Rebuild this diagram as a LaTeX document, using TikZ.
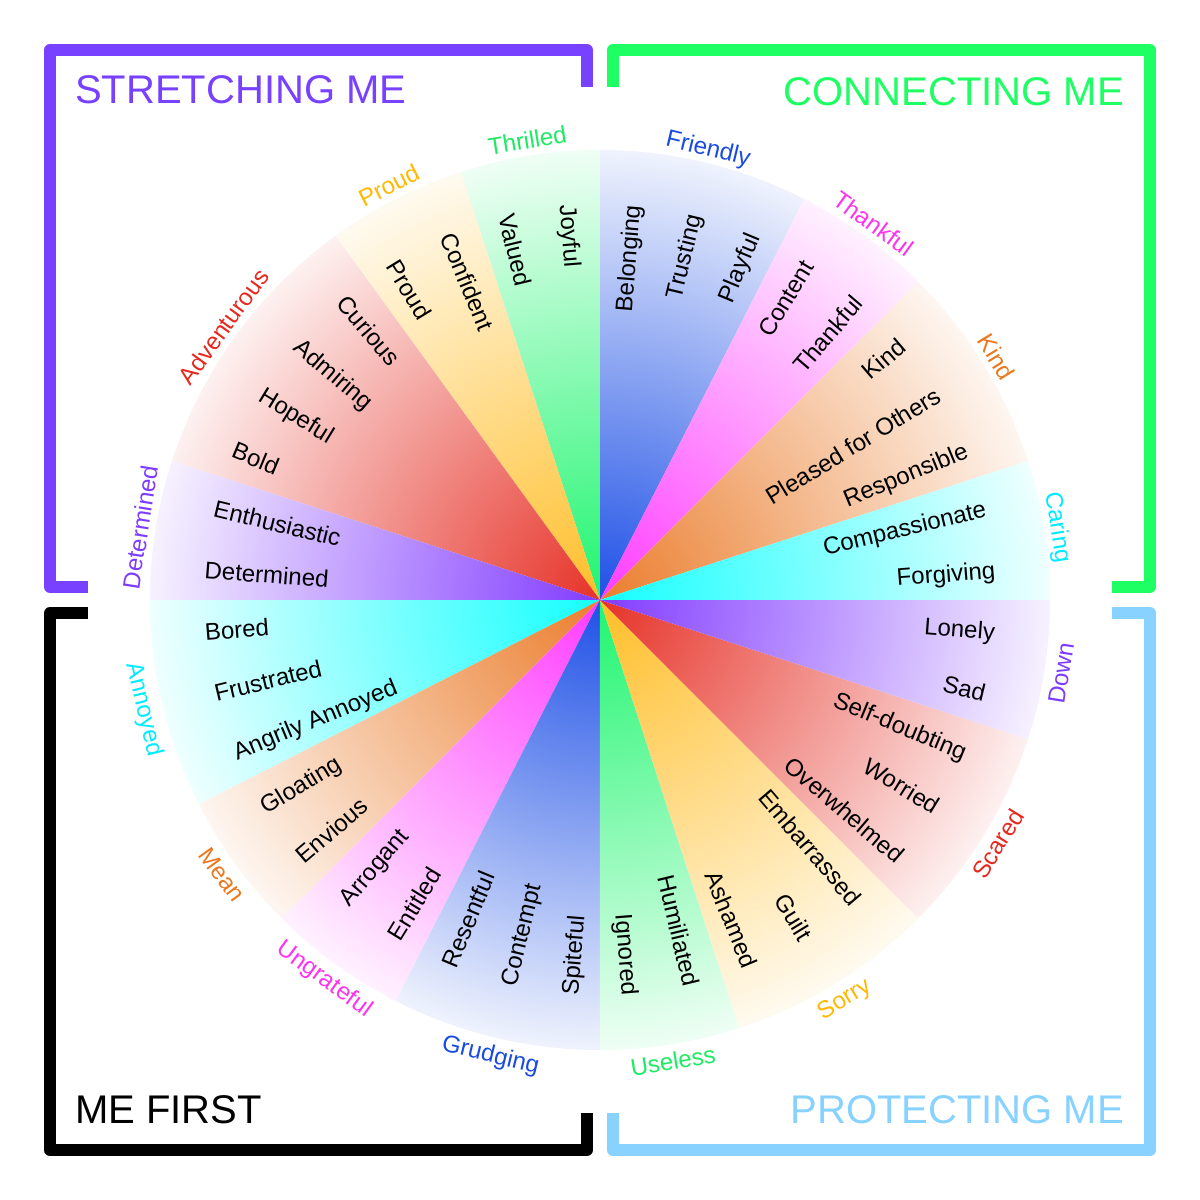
\documentclass[tikz,border=0pt]{standalone}
\usepackage{fontspec}
\setmainfont{Liberation Sans}
\definecolor{cblue}{RGB}{30,80,230}
\definecolor{cmag}{RGB}{255,60,255}
\definecolor{corange}{RGB}{235,125,45}
\definecolor{ccyan}{RGB}{20,255,255}
\definecolor{cgreen}{RGB}{30,245,110}
\definecolor{cyellow}{RGB}{255,190,40}
\definecolor{cred}{RGB}{230,50,40}
\definecolor{cpurple}{RGB}{130,60,255}
\definecolor{lblue}{RGB}{25,75,225}
\definecolor{lmag}{RGB}{255,50,240}
\definecolor{lorange}{RGB}{235,120,30}
\definecolor{lcyan}{RGB}{0,235,255}
\definecolor{lgreen}{RGB}{30,235,100}
\definecolor{lyellow}{RGB}{255,185,0}
\definecolor{lred}{RGB}{230,40,30}
\definecolor{lpurple}{RGB}{125,60,255}
\definecolor{fpurple}{RGB}{120,64,255}
\definecolor{fgreen}{RGB}{30,255,100}
\definecolor{fblue}{RGB}{135,210,255}
\tikzset{
  frame/.style={line width=0.12cm, line join=round},
  titletext/.style={inner sep=0pt, font=\fontsize{11.38pt}{13pt}\selectfont},
  wordR/.style={inner sep=0pt, anchor=mid east, font=\fontsize{6.83pt}{8pt}\selectfont},
  wordL/.style={inner sep=0pt, anchor=mid west, font=\fontsize{6.83pt}{8pt}\selectfont},
  cat/.style={inner sep=0pt, anchor=mid, font=\fontsize{6.85pt}{8pt}\selectfont},
}
\begin{document}
\begin{tikzpicture}
\useasboundingbox (-6,-6) rectangle (6,6);
\fill[white] (-6,-6) rectangle (6,6);
% sectors
\foreach \a/\b/\c in {63/90/cblue,45/63/cmag,18/45/corange,0/18/ccyan,
  90/108/cgreen,108/126/cyellow,126/162/cred,162/180/cpurple,
  180/207/ccyan,207/225/corange,225/243/cmag,243/270/cblue,
  270/288/cgreen,288/315/cyellow,315/342/cred,342/360/cpurple}{
  \begin{scope}
    \clip (0,0) -- (\a:4.5) arc[start angle=\a, end angle=\b, radius=4.5] -- cycle;
    \shade[inner color=\c, outer color=\c!7] (0,0) circle (4.5);
  \end{scope}
}
% category labels
\foreach \m/\r/\t/\lc [count=\i] in {76.5/-13.5/Friendly/lblue, 54/-36/Thankful/lmag,
  31.5/-58.5/Kind/lorange, 9/-81/Caring/lcyan, 99/9/Thrilled/lgreen,
  117/27/Proud/lyellow, 144/54/Adventurous/lred, 171/81/Determined/lpurple,
  193.5/283.5/Annoyed/lcyan, 216/306/Mean/lorange, 234/324/Ungrateful/lmag,
  256.5/346.5/Grudging/lblue, 279/9/Useless/lgreen, 301.5/31.5/Sorry/lyellow,
  328.5/58.5/Scared/lred, 351/81/Down/lpurple}{
  \node[cat, text=\lc, rotate=\r] (c\i) at (\m:4.66) {\t};
}
% words, right half
\foreach \th/\t [count=\i] in {85.5/Belonging, 76.5/Trusting, 67.5/Playful,
  58.5/Content, 49.5/Thankful, 40.5/Kind, 31.5/Pleased for Others,
  22.5/Responsible, 13.5/Compassionate, 4.5/Forgiving, -4.5/Lonely, -13.5/Sad,
  -22.5/Self-doubting, -31.5/Worried, -40.5/Overwhelmed, -49.5/Embarrassed,
  -58.5/Guilt, -67.5/Ashamed, -76.5/Humiliated, -85.5/Ignored}{
  \node[wordR, rotate=\th] (wr\i) at (\th:3.97) {\t};
}
% words, left half
\foreach \th/\t [count=\i] in {94.5/Joyful, 103.5/Valued, 112.5/Confident,
  121.5/Proud, 130.5/Curious, 139.5/Admiring, 148.5/Hopeful, 157.5/Bold,
  166.5/Enthusiastic, 175.5/Determined, 184.5/Bored, 193.5/Frustrated,
  202.5/Angrily Annoyed, 211.5/Gloating, 220.5/Envious, 229.5/Arrogant,
  238.5/Entitled, 247.5/Resentful, 256.5/Contempt, 265.5/Spiteful}{
  \node[wordL, rotate=\th-180] (wl\i) at (\th:3.97) {\t};
}
% frames
\draw[frame, draw=fpurple] (-5.12,0.13) -- (-5.5,0.13) -- (-5.5,5.5) -- (-0.13,5.5) -- (-0.13,5.13);
\draw[frame, draw=fgreen] (0.13,5.13) -- (0.13,5.5) -- (5.5,5.5) -- (5.5,0.13) -- (5.12,0.13);
\draw[frame, draw=fblue] (5.12,-0.13) -- (5.5,-0.13) -- (5.5,-5.5) -- (0.13,-5.5) -- (0.13,-5.13);
\draw[frame, draw=black] (-5.12,-0.13) -- (-5.5,-0.13) -- (-5.5,-5.5) -- (-0.13,-5.5) -- (-0.13,-5.13);
% titles
\node[titletext, text=fpurple, anchor=base west] (t1) at (-5.255,4.965) {STRETCHING ME};
\node[titletext, text=fgreen, anchor=base east] (t2) at (5.245,4.945) {CONNECTING ME};
\node[titletext, text=black, anchor=base west] (t3) at (-5.255,-5.23) {ME FIRST};
\node[titletext, text=fblue, anchor=base east] (t4) at (5.245,-5.23) {PROTECTING ME};
\end{tikzpicture}
\end{document}
